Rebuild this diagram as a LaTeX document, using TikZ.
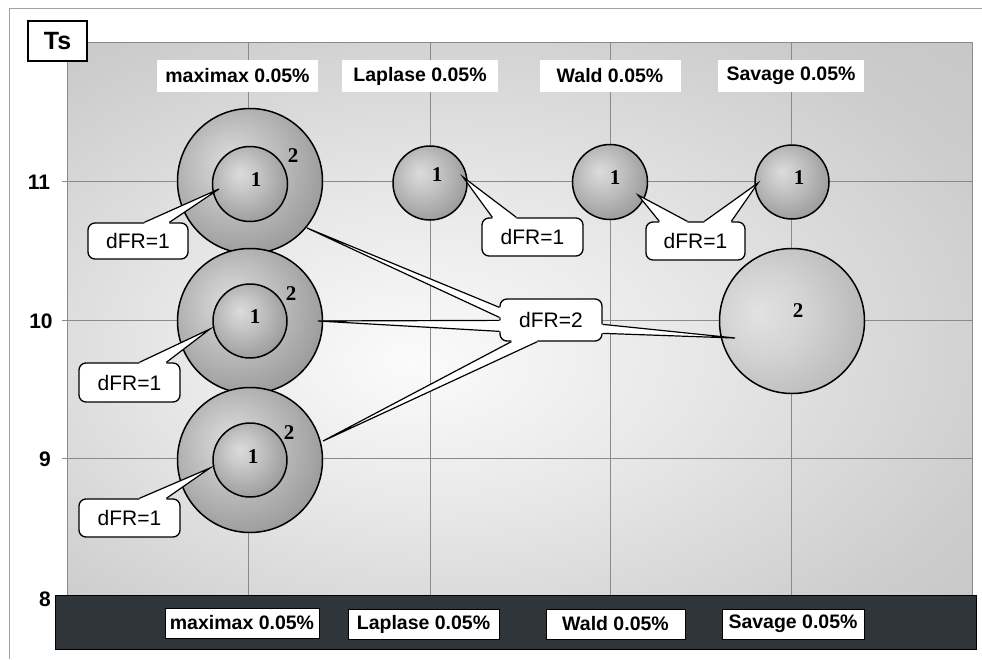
\documentclass[tikz,border=0pt]{standalone}
\usepackage{fontspec}
\setmainfont{Liberation Sans}
\newfontfamily\numfont{Liberation Serif}
\usetikzlibrary{calc}

\definecolor{gridgray}{HTML}{8A8A8A}
\definecolor{framegray}{HTML}{A0A0A0}
\definecolor{bardark}{HTML}{2F3539}
\definecolor{bgA}{HTML}{FBFBFB}
\definecolor{bgB}{HTML}{E8E8E8}
\definecolor{bgC}{HTML}{CCCCCC}
\definecolor{bgD}{HTML}{BEBEBE}
\definecolor{bubA}{HTML}{DCDCDC}
\definecolor{bubB}{HTML}{C8C8C8}
\definecolor{bubC}{HTML}{9C9C9C}
\definecolor{bubD}{HTML}{707070}
\definecolor{bubE}{HTML}{4E4E4E}
\definecolor{bigA}{HTML}{E2E2E2}
\definecolor{bigB}{HTML}{D4D4D4}
\definecolor{bigC}{HTML}{B6B6B6}
\definecolor{bigD}{HTML}{989898}
\definecolor{bigE}{HTML}{7A7A7A}

% soft light spot for the plot area
\pgfdeclareradialshading{plotbg}{\pgfpoint{-6bp}{-4bp}}{%
  color(0bp)=(bgA); color(14bp)=(bgB); color(32bp)=(bgC); color(50bp)=(bgD); color(70bp)=(bgD)}
% spheres lit from the upper left
\pgfdeclareradialshading{bubble}{\pgfpoint{-7bp}{7bp}}{%
  color(0bp)=(bubA); color(10bp)=(bubB); color(30bp)=(bubC); color(46bp)=(bubD); color(56bp)=(bubE); color(66bp)=(bubE)}
% paler sphere lit from the left
\pgfdeclareradialshading{bigbubble}{\pgfpoint{-12bp}{3bp}}{%
  color(0bp)=(bigA); color(14bp)=(bigB); color(34bp)=(bigC); color(48bp)=(bigD); color(58bp)=(bigE); color(66bp)=(bigE)}

% pointer wedge of a callout: base points #1,#2, tip #3, shift #4 into the box
\newcommand{\wedgeptr}[4]{%
  \fill[white] ($(#1)+(#4)$) -- (#1) -- (#3) -- (#2) -- ($(#2)+(#4)$) -- cycle;
  \draw[line width=1.2pt, line join=miter] (#1) -- (#3) -- (#2);}

\begin{document}
\begin{tikzpicture}[x=1pt, y=-1pt,
  lab/.style={font=\fontsize{19.5}{22}\selectfont\bfseries, inner sep=0pt},
  toplab/.style={lab, fill=white, minimum height=32pt},
  botlab/.style={lab, fill=white, draw=black, line width=0.8pt, minimum height=30pt},
  axlab/.style={font=\fontsize{21}{23}\selectfont\bfseries, inner sep=0pt},
  bub/.style={circle, draw=black, line width=1.5pt, shading=bubble, inner sep=0pt},
  num/.style={font=\numfont\fontsize{21}{21}\selectfont\bfseries, inner sep=0pt},
  callout/.style={draw=black, line width=1.3pt, fill=white, rounded corners=7pt,
    inner sep=0pt, font=\fontsize{21}{23}\selectfont},
  gridline/.style={draw=gridgray, line width=0.9pt}]
\useasboundingbox (0,0) rectangle (982,659);
\fill[white] (0,0) rectangle (982,659);

% outer frame
\draw[framegray, line width=1pt] (9,659) -- (9,8) -- (982,8);

% plot area and grid
\shade[shading=plotbg] (67,42) rectangle (972,595);
\foreach \gx in {248,430,610,791}
  \draw[gridline] (\gx,42) -- (\gx,595);
\foreach \gy in {181,320,458}
  \draw[gridline] (62,\gy) -- (972,\gy);
\draw[gridline] (62,595) -- (67,595);
\draw[gridline] (67,42) rectangle (972,595);

% axis title
\node[draw=black, line width=1.3pt, fill=white, minimum width=59pt, minimum height=40pt,
  inner sep=0pt, font=\fontsize{25}{28}\selectfont\bfseries] (ts) at (57.5,41) {Ts};

% y-axis values
\node[axlab] (y11) at (39,182) {11};
\node[axlab] (y10) at (41,321) {10};
\node[axlab] (y9) at (45,459) {9};
\node[axlab] (y8) at (45,599) {8};

% top column labels
\node[toplab, minimum width=161pt] (tmax) at (237.5,76) {maximax 0.05\%};
\node[toplab, minimum width=156pt] (tlap) at (420,76) {Laplase 0.05\%};
\node[toplab, minimum width=141pt] (twal) at (610,76) {Wald 0.05\%};
\node[toplab, minimum width=146pt] (tsav) at (791,76) {Savage 0.05\%};

% bottom category bar
\fill[bardark] (55,595) rectangle (976,649);
\draw[black, line width=0.8pt] (55,595) rectangle (976,649);
\node[botlab, minimum width=154pt] (bmax) at (242,623) {maximax 0.05\%};
\node[botlab, minimum width=151pt] (blap) at (423.5,624) {Laplase 0.05\%};
\node[botlab, minimum width=139pt] (bwal) at (615.5,624) {Wald 0.05\%};
\node[botlab, minimum width=142pt] (bsav) at (793,624) {Savage 0.05\%};

% bubbles: maximax column
\node[bub, minimum size=145pt] (m11o) at (250,181) {};
\node[bub, minimum size=75pt] (m11i) at (250,184) {};
\node[bub, minimum size=145pt] (m10o) at (250,321) {};
\node[bub, minimum size=74pt] (m10i) at (250,321) {};
\node[bub, minimum size=145pt] (m9o) at (250,460) {};
\node[bub, minimum size=74pt] (m9i) at (250,460) {};
% bubbles: Laplase, Wald, Savage
\node[bub, minimum size=74pt] (l11) at (430,183) {};
\node[bub, minimum size=75pt] (w11) at (610,182) {};
\node[bub, minimum size=74pt] (s11) at (792,182) {};
\node[bub, shading=bigbubble, minimum size=145pt] (s10) at (792,321) {};

% bubble numbers
\node[num] (m11n1) at (256,180) {1};
\node[num] (m11n2) at (293,156) {2};
\node[num] (m10n1) at (255,317) {1};
\node[num] (m10n2) at (291,294) {2};
\node[num] (m9n1) at (253,457) {1};
\node[num] (m9n2) at (289,433) {2};
\node[num] (l11n) at (437,175) {1};
\node[num] (w11n) at (615,178) {1};
\node[num] (s11n) at (799,178) {1};
\node[num] (s10n) at (798,311) {2};

% callout boxes
\node[callout, minimum width=100pt, minimum height=36pt] (d11) at (138,241) {dFR=1};
\node[callout, minimum width=101pt, minimum height=39pt] (d10) at (129.5,382.5) {dFR=1};
\node[callout, minimum width=101pt, minimum height=38pt] (d9) at (129.5,518) {dFR=1};
\node[callout, minimum width=101pt, minimum height=38pt] (dl) at (532.5,237) {dFR=1};
\node[callout, minimum width=99pt, minimum height=38pt] (dws) at (695.5,241) {dFR=1};
\node[callout, minimum width=102pt, minimum height=42pt] (d2) at (551,320) {dFR=2};

% callout pointers
\coordinate (a11) at ($(d11.north west)+(57,0)$);
\coordinate (b11) at ($(d11.north west)+(82,0)$);
\coordinate (t11) at ($(m11i.center)+(-31,5)$);
\wedgeptr{a11}{b11}{t11}{0,2}

\coordinate (a10) at ($(d10.north west)+(61,0)$);
\coordinate (b10) at ($(d10.north west)+(88,0)$);
\coordinate (t10) at ($(m10i.center)+(-40,8)$);
\wedgeptr{a10}{b10}{t10}{0,2}

\coordinate (a9) at ($(d9.north west)+(61,0)$);
\coordinate (b9) at ($(d9.north west)+(88,0)$);
\coordinate (t9) at ($(m9i.center)+(-40,8)$);
\wedgeptr{a9}{b9}{t9}{0,2}

\coordinate (al) at ($(dl.north west)+(11,0)$);
\coordinate (bl) at ($(dl.north west)+(35,0)$);
\coordinate (tl) at ($(l11.center)+(33,-6)$);
\wedgeptr{al}{bl}{tl}{0,2}

\coordinate (aw) at ($(dws.north west)+(14,0)$);
\coordinate (bw) at ($(dws.north west)+(42,0)$);
\coordinate (tw) at ($(w11.center)+(28,13)$);
\wedgeptr{aw}{bw}{tw}{0,2}

\coordinate (as) at ($(dws.north west)+(59,0)$);
\coordinate (bs) at ($(dws.north west)+(86,0)$);
\coordinate (ts1) at ($(s11.center)+(-34,1)$);
\wedgeptr{as}{bs}{ts1}{0,2}

\coordinate (a2a) at ($(d2.north west)+(0,9)$);
\coordinate (b2a) at ($(d2.north west)+(0,19)$);
\coordinate (t2a) at ($(m11o.center)+(57,47)$);
\wedgeptr{a2a}{b2a}{t2a}{2,0}

\coordinate (a2b) at ($(d2.north west)+(0,22)$);
\coordinate (b2b) at ($(d2.north west)+(0,33)$);
\coordinate (t2b) at ($(m10o.center)+(68,0)$);
\wedgeptr{a2b}{b2b}{t2b}{2,0}

\coordinate (a2c) at ($(d2.south west)+(12,0)$);
\coordinate (b2c) at ($(d2.south west)+(38,0)$);
\coordinate (t2c) at ($(m9o.center)+(73,-19)$);
\wedgeptr{a2c}{b2c}{t2c}{0,-2}

\coordinate (a2d) at ($(d2.north east)+(0,26)$);
\coordinate (b2d) at ($(d2.north east)+(0,35)$);
\coordinate (t2d) at ($(s10.center)+(-57,17)$);
\wedgeptr{a2d}{b2d}{t2d}{-2,0}
\end{tikzpicture}
\end{document}
